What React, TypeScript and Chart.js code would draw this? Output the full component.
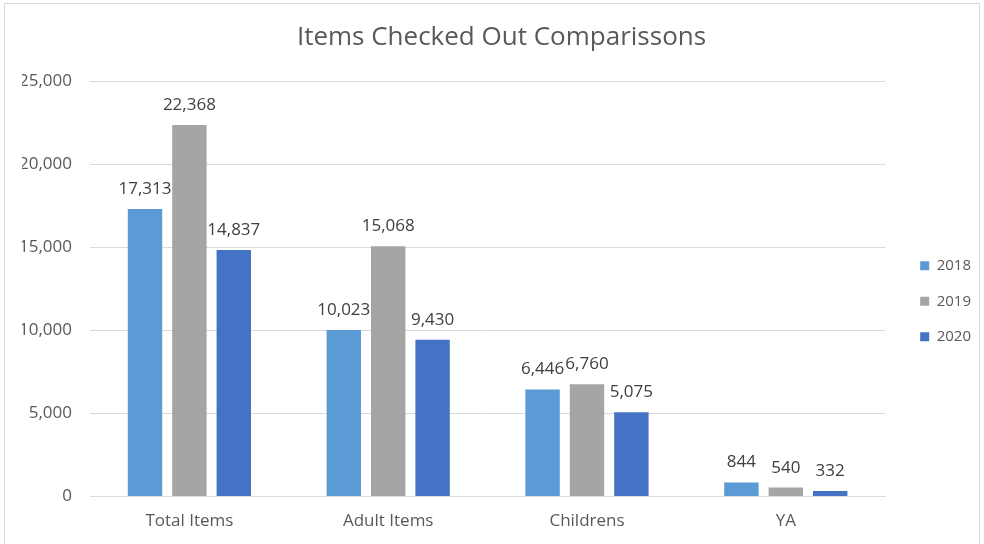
import React, { useEffect, useRef } from 'react';
import { Chart, registerables } from 'chart.js';

Chart.register(...registerables);

const chartTitle = 'Items Checked Out Comparissons';
const categories = ['Total Items', 'Adult Items', 'Childrens', 'YA'];
const seriesNames = ['2018', '2019', '2020'];
const values2018 = [17313, 10023, 6446, 844];
const values2019 = [22368, 15068, 6760, 540];
const values2020 = [14837, 9430, 5075, 332];
const seriesColors = ['#5B9BD5', '#A5A5A5', '#4472C4'];
const yMin = 0;
const yMax = 25000;
const yStep = 5000;

const FONT = "'Open Sans', 'Noto Sans', sans-serif";

const valueLabelPlugin = {
  id: 'valueLabels',
  afterDatasetsDraw(chart: any) {
    const ctx = chart.ctx;
    ctx.save();
    ctx.font = `17px ${FONT}`;
    ctx.fillStyle = '#404040';
    ctx.textAlign = 'center';
    ctx.textBaseline = 'alphabetic';
    chart.data.datasets.forEach((ds: any, i: number) => {
      const meta = chart.getDatasetMeta(i);
      meta.data.forEach((bar: any, j: number) => {
        const v = ds.data[j] as number;
        ctx.fillText(v.toLocaleString('en-US'), bar.x, bar.y - 15);
      });
    });
    ctx.restore();
  },
};

export default function App() {
  const canvasRef = useRef<HTMLCanvasElement | null>(null);

  useEffect(() => {
    if (!canvasRef.current) return;
    const allSeries = [values2018, values2019, values2020];
    const chart = new Chart(canvasRef.current, {
      type: 'bar',
      data: {
        labels: categories,
        datasets: seriesNames.map((name, i) => ({
          label: name,
          data: allSeries[i],
          backgroundColor: seriesColors[i],
          borderWidth: 0,
          categoryPercentage: 0.67,
          barPercentage: 0.775,
        })),
      },
      options: {
        responsive: false,
        animation: false,
        devicePixelRatio: 1,
        layout: { padding: { left: 22, right: 3, top: 0, bottom: 13 } },
        plugins: {
          title: {
            display: true,
            text: chartTitle,
            color: '#595959',
            font: { family: FONT, size: 26, weight: 'normal' },
            padding: { top: 22, bottom: 28 },
          },
          legend: {
            position: 'right',
            fullSize: false,
            title: { display: true, text: '', font: { size: 15 }, padding: 3.5 },
            labels: {
              boxWidth: 9,
              boxHeight: 9,
              padding: 20.5,
              color: '#595959',
              font: { family: FONT, size: 15 },
            },
          },
          tooltip: { enabled: false },
        },
        scales: {
          x: {
            grid: { display: false, drawTicks: false },
            border: { display: true, color: '#d9d9d9' },
            ticks: { color: '#595959', font: { family: FONT, size: 17 }, padding: 14 },
            afterFit: (s: any) => {
              s.height = 34.5;
            },
          },
          y: {
            min: yMin,
            max: yMax,
            grid: { color: '#d9d9d9', drawTicks: false },
            border: { display: false },
            ticks: {
              stepSize: yStep,
              color: '#595959',
              font: { family: FONT, size: 17 },
              padding: 18,
              callback: (v: any) => Number(v).toLocaleString('en-US'),
            },
            afterFit: (s: any) => {
              s.width = 68;
            },
          },
          gap: {
            type: 'linear',
            position: 'right',
            display: true,
            grid: { display: false },
            border: { display: false },
            ticks: { display: false },
            afterFit: (s: any) => {
              s.width = 14.5;
            },
          },
        },
      } as any,
      plugins: [valueLabelPlugin],
    });
    return () => chart.destroy();
  }, []);

  return (
    <div
      style={{
        position: 'fixed',
        left: 0,
        top: 0,
        width: 984,
        height: 544,
        overflow: 'hidden',
        background: '#ffffff',
      }}
    >
      <div
        style={{
          position: 'absolute',
          left: 4,
          top: 3,
          width: 976,
          height: 600,
          border: '1px solid #d9d9d9',
          boxSizing: 'border-box',
        }}
      />
      <canvas
        ref={canvasRef}
        width={984}
        height={544}
        style={{ position: 'absolute', left: 0, top: 0, width: 984, height: 544 }}
      />
    </div>
  );
}
